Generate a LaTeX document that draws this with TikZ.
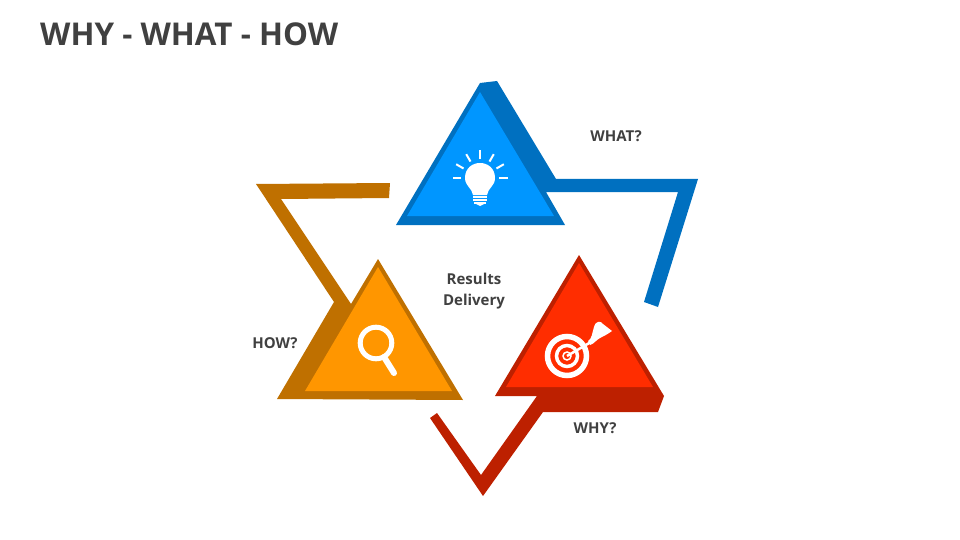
\documentclass[tikz,border=0pt]{standalone}
\usepackage{xcolor}
\usepackage{fontspec}
\setmainfont{Open Sans}
\usetikzlibrary{positioning}
\definecolor{bluelight}{HTML}{0096FF}
\definecolor{bluedark}{HTML}{0070C0}
\definecolor{orangelight}{HTML}{FF9600}
\definecolor{orangedark}{HTML}{BF7000}
\definecolor{redlight}{HTML}{FF2D00}
\definecolor{reddark}{HTML}{BD2000}
\definecolor{textgray}{HTML}{404040}
\tikzset{
    label text/.style={text=textgray, font=\bfseries\fontsize{15}{21}\selectfont, align=center, inner sep=0pt},
    icon line/.style={draw=white, line width=2pt},
    icon fill/.style={fill=white, draw=none}
}

\begin{document}
\begin{tikzpicture}[x=1pt,y=-1pt]
    \useasboundingbox (0,0) rectangle (960,540);
    \node[label text, font=\bfseries\fontsize{31.4}{36}\selectfont, anchor=west] (title) at (40,34.5) {WHY - WHAT - HOW};

    % Blue triangle and strip
    \fill[bluedark] (480,83) -- (497,81) -- (556,179) -- (698,179) -- (658,307) -- (644,302) -- (678,192) -- (546,192) -- (565,225) -- (396,225) -- cycle;
    \fill[bluelight] (480,92) -- (554,216) -- (407,216) -- cycle;

    % Orange triangle and strip
    \fill[orangedark] (390,183) -- (256,184) -- (334,302) -- (277,399) -- (463,400) -- (378,259) -- (351,304) -- (281,199) -- (389,198) -- cycle;
    \fill[orangelight] (378,267) -- (452,391) -- (305,391) -- cycle;

    % Red triangle and strip
    \fill[reddark] (579,255) -- (664,396) -- (658,412) -- (543,412) -- (483,496) -- (430,418) -- (437,413) -- (481,475) -- (537,396) -- (495,396) -- cycle;
    \fill[redlight] (579,263) -- (653,387) -- (506,387) -- cycle;

    % Bulb
    \fill[icon fill] (473,195) .. controls (472,188) and (465,186) .. (465,178) .. controls (465,158) and (495,158) .. (495,178) .. controls (495,186) and (488,188) .. (487,195) -- cycle;
    \draw[icon line, line width=1.5pt] (473,197) -- (487,197);
    \draw[icon line, line width=1.5pt] (473,200) -- (487,200);
    \draw[icon line, line width=1.5pt] (474,203) -- (486,203);
    \fill[icon fill] (476,204) -- (484,204) -- (480,206) -- cycle;
    \foreach \a in {0,30,60,90,120,150,180}
        \draw[icon line] (480,178) ++({-\a}:19) -- ++({-\a}:8.5);

    % Magnifier
    \draw[icon line, line width=5pt] (376,343) circle (15.8);
    \draw[icon line, line width=6pt, line cap=round] (384,357) -- (394,373);

    % Target
    \draw[icon line, line width=5.5pt] (567,356) circle (19.5);
    \draw[icon line, line width=3.5pt] (567,356) circle (10.5);
    \draw[icon line, line width=1.5pt] (567,356) circle (4);
    \draw[icon line, line width=2.5pt] (567,356) -- (591,342);
    \fill[icon fill] (588,341) .. controls (592,339) and (592,333) .. (594,327) .. controls (596,320) and (601,321) .. (603,324) -- (612,331) .. controls (608,334) and (604,336) .. (600,338) .. controls (596,340) and (594,344) .. (590,345) -- cycle;

    % Labels
    \node[label text] (what) at (616,136.5) {WHAT?};
    \node[label text] (results) at (474,291.5) {Results\\Delivery};
    \node[label text] (how) at (275,343.5) {HOW?};
    \node[label text] (why) at (595,428.5) {WHY?};
\end{tikzpicture}
\end{document}
